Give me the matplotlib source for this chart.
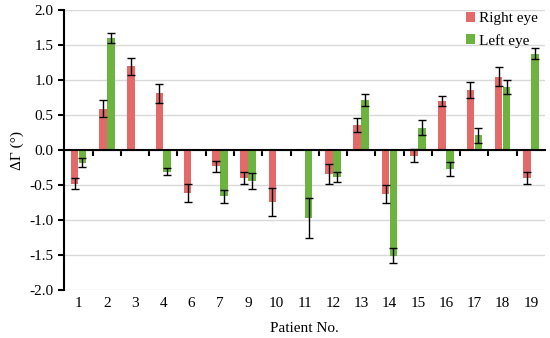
import matplotlib.pyplot as plt
import numpy as np

plt.rcParams['font.family'] = ['Liberation Serif', 'DejaVu Serif']

patients = ['1', '2', '3', '4', '6', '7', '9', '10', '11', '12', '13', '14', '15', '16', '17', '18', '19']
right = [-0.48, 0.59, 1.20, 0.81, -0.61, -0.23, -0.40, -0.74, np.nan, -0.34, 0.36, -0.63, -0.08, 0.70, 0.86, 1.05, -0.40]
right_err = [0.08, 0.12, 0.12, 0.14, 0.13, 0.08, 0.08, 0.20, np.nan, 0.14, 0.10, 0.13, 0.09, 0.07, 0.12, 0.14, 0.08]
left = [-0.18, 1.60, np.nan, -0.31, np.nan, -0.66, -0.44, np.nan, -0.97, -0.39, 0.72, -1.51, 0.32, -0.27, 0.21, 0.90, 1.38]
left_err = [0.06, 0.07, np.nan, 0.05, np.nan, 0.09, 0.11, np.nan, 0.29, 0.07, 0.085, 0.11, 0.11, 0.10, 0.11, 0.10, 0.08]

x = np.arange(len(patients))
w = 0.27

fig = plt.figure(figsize=(5.5, 3.38), dpi=100)
ax = fig.add_axes([0.117, 0.142, 0.874, 0.828])

ax.bar(x - 0.14, right, w, color='#e46a6a', label='Right eye', zorder=2)
ax.bar(x + 0.14, left, w, color='#6cb43f', label='Left eye', zorder=2)
ax.errorbar(x - 0.14, right, yerr=right_err, fmt='none', ecolor='black', elinewidth=1, capsize=3, capthick=1, zorder=3)
ax.errorbar(x + 0.14, left, yerr=left_err, fmt='none', ecolor='black', elinewidth=1, capsize=3, capthick=1, zorder=3)

ax.set_xlim(-0.5, len(patients) - 0.5)
ax.set_ylim(-2.0, 2.0)
ax.set_yticks(np.arange(-2.0, 2.01, 0.5))
ax.set_yticklabels(['%.1f' % v for v in np.arange(-2.0, 2.01, 0.5)], fontsize=11)
ax.yaxis.grid(True, color='#d9d9d9', linewidth=1, zorder=0)
ax.set_axisbelow(True)

# x axis line sits at zero, labels stay at the bottom
ax.spines['bottom'].set_position(('data', 0))
ax.spines['bottom'].set_linewidth(1.5)
ax.spines['left'].set_linewidth(1.5)
ax.spines['top'].set_visible(False)
ax.spines['right'].set_visible(False)
ax.set_xticks(np.arange(0.5, len(patients) - 0.5, 1))
ax.set_xticklabels([])
ax.tick_params(axis='x', direction='out', length=4, width=1.5)
ax.tick_params(axis='y', direction='out', length=4, width=1.5, pad=4)

sec = ax.secondary_xaxis(0.0)
sec.set_xticks(x)
sec.set_xticklabels(patients, fontsize=11)
sec.tick_params(length=0, pad=5)
sec.spines['bottom'].set_visible(False)
sec.set_xlabel('Patient No.', fontsize=11, labelpad=9)

ax.set_ylabel('ΔΓ (°)', fontsize=11, family=['Liberation Serif', 'DejaVu Sans'], labelpad=4)

ax.legend(loc='upper right', bbox_to_anchor=(1.0, 1.02), frameon=False, fontsize=11,
          handlelength=0.6, handleheight=0.6, handletextpad=0.25, labelspacing=0.55, borderaxespad=0.1)

fig.savefig('out.png', dpi=100)
